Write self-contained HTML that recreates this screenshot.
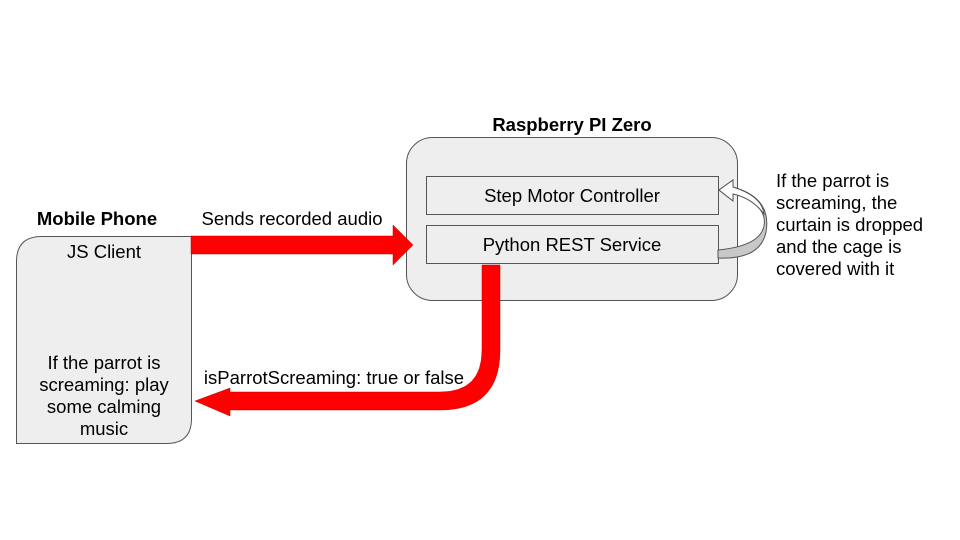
<!DOCTYPE html>
<html><head><style>
body{margin:0;width:960px;height:540px;background:#fff;overflow:hidden;font-family:"Liberation Sans",Arial,sans-serif;}
svg{position:absolute;left:0;top:0}
</style></head><body>
<svg width="960" height="540" viewBox="0 0 960 540" font-family="Liberation Sans, Arial, sans-serif" font-size="18.5" fill="#000">
<rect x="406.5" y="137.5" width="331" height="163" rx="26" fill="#eeeeee" stroke="#555" stroke-width="1"/>
<rect x="426.5" y="176.5" width="292" height="38" fill="#eeeeee" stroke="#555"/>
<rect x="426.5" y="225.5" width="292" height="38" fill="#eeeeee" stroke="#555"/>
<text x="572" y="131" text-anchor="middle" font-weight="bold">Raspberry PI Zero</text>
<text x="572" y="202" text-anchor="middle">Step Motor Controller</text>
<text x="572" y="251" text-anchor="middle">Python REST Service</text>
<path d="M41.5 236.5 H191.5 V418.5 Q191.5 443.5 166.5 443.5 H16.5 V261.5 Q16.5 236.5 41.5 236.5 Z" fill="#eeeeee" stroke="#555"/>
<text x="97" y="225" text-anchor="middle" font-weight="bold">Mobile Phone</text>
<text x="104" y="258" text-anchor="middle">JS Client</text>
<text x="104" y="369" text-anchor="middle">If the parrot is</text>
<text x="104" y="391" text-anchor="middle">screaming: play</text>
<text x="104" y="413" text-anchor="middle">some calming</text>
<text x="104" y="435" text-anchor="middle">music</text>
<path d="M191 236 H393 V225 L413 245 L393 265 V254 H191 Z" fill="#ff0000" stroke="#c00" stroke-width="0.5"/>
<text x="292" y="225" text-anchor="middle">Sends recorded audio</text>
<path d="M482 265 H500 V350 Q500 410 440 410 H230 V416 L195 401 L230 388 V392 H440 Q482 392 482 350 Z" fill="#ff0000" stroke="#c00" stroke-width="0.5"/>
<text x="334" y="384" text-anchor="middle">isParrotScreaming: true or false</text>
<path d="M718 250 Q760 246 764 226 Q768 205 733 192 L733 201 L719 190 L733 180 L733 187 Q772 198 766 232 Q760 260 718 258 Z" fill="#c8c8c8" stroke="#555" stroke-width="1"/>
<path d="M719 190 L733 180 L733 187 Q762 196 764 214 Q752 198 733 194 L733 201 Z" fill="#fff" stroke="#555"/>
<text x="776" y="187">If the parrot is</text>
<text x="776" y="209">screaming, the</text>
<text x="776" y="231">curtain is dropped</text>
<text x="776" y="253">and the cage is</text>
<text x="776" y="275">covered with it</text>
</svg>
</body></html>
